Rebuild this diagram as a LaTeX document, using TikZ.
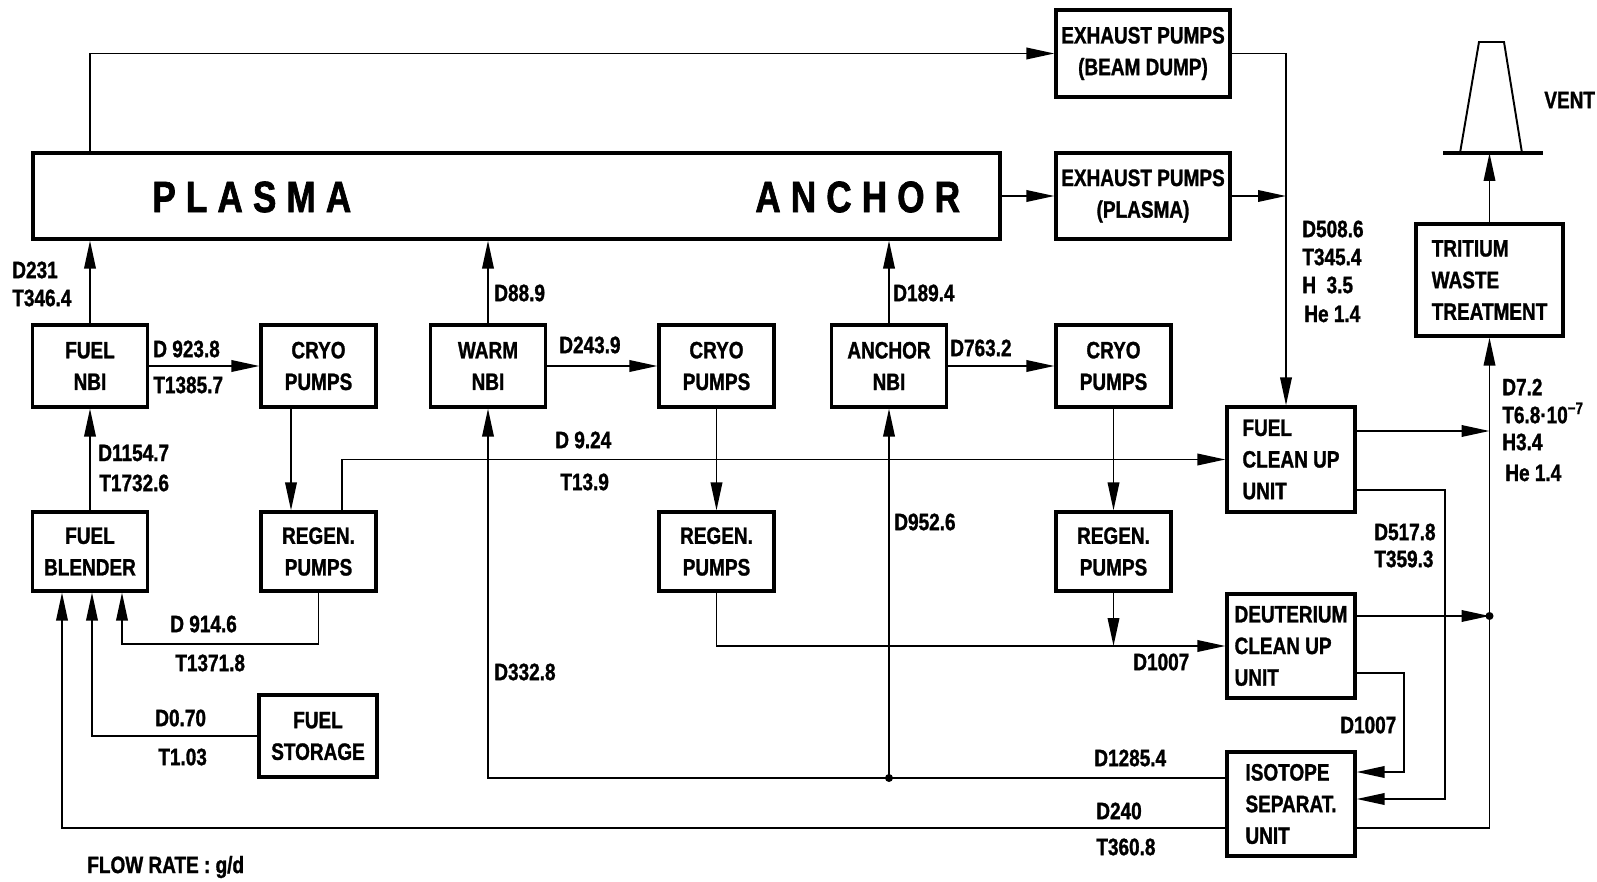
\documentclass[tikz,border=0pt]{standalone}
\usepackage{fontspec}
\setmainfont{Liberation Sans}[FakeStretch=0.8,FakeBold=1.2]
\newfontfamily\plasmafont{Liberation Sans}[FakeStretch=0.8,FakeBold=1.5,LetterSpace=23]
\usetikzlibrary{arrows.meta,positioning,calc}

\begin{document}
\begin{tikzpicture}[x=0.2mm, y=-0.2mm,
  font=\fontsize{13.5}{18}\selectfont\bfseries,
  unit/.style={rectangle, draw, line width=1.8pt, minimum width=23mm,
               minimum height=16.4mm, align=center, inner sep=0pt},
  wideunit/.style={unit, minimum width=25.6mm, minimum height=21mm, align=left},
  flow/.style={-{Triangle[length=5.6mm, width=2.3mm]}, line width=1.1pt},
  lbl/.style={anchor=west, inner sep=0pt},
  junc/.style={circle, fill, inner sep=0pt, minimum size=1.6mm},
  bigword/.style={anchor=west, inner sep=0pt,
                  font=\plasmafont\bfseries\fontsize{25}{25}\selectfont}
]
\useasboundingbox (0,0) rectangle (1597,882);

% Plasma block
\node[unit, minimum width=193.4mm, minimum height=17.2mm] (plasma) at (516.5,196) {};
\node[bigword] (wplasma) at (152,197) {PLASMA};
\node[bigword] (wanchor) at (755,197) {ANCHOR};

% Exhaust side
\node[unit, minimum width=34.8mm, minimum height=17.4mm] (exbeam) at (1143,53.5) {EXHAUST PUMPS\\(BEAM DUMP)};
\node[unit, minimum width=34.8mm, minimum height=17.2mm] (explasma) at (1143,196) {EXHAUST PUMPS\\(PLASMA)};

% Injector row
\node[unit] (fuelnbi)   at (90,366)     {FUEL\\NBI};
\node[unit] (cryoA)     at (318.5,366)  {CRYO\\PUMPS};
\node[unit] (warmnbi)   at (488,366)    {WARM\\NBI};
\node[unit] (cryoB)     at (716.5,366)  {CRYO\\PUMPS};
\node[unit] (anchornbi) at (889,366)    {ANCHOR\\NBI};
\node[unit] (cryoC)     at (1113.5,366) {CRYO\\PUMPS};

% Regeneration row
\node[unit, minimum height=15.8mm] (blender) at (90,551.5)     {FUEL\\BLENDER};
\node[unit, minimum height=15.8mm] (regenA)  at (318.5,551.5)  {REGEN.\\PUMPS};
\node[unit, minimum height=15.8mm] (regenB)  at (716.5,551.5)  {REGEN.\\PUMPS};
\node[unit, minimum height=15.8mm] (regenC)  at (1113.5,551.5) {REGEN.\\PUMPS};
\node[unit, minimum width=23.6mm] (storage) at (318,736) {FUEL\\STORAGE};

% Clean up and separation
\node[wideunit] (fuelclean) at (1291,459.5) {FUEL\\CLEAN UP\\UNIT};
\node[wideunit, minimum height=20.8mm] (deut) at (1291,646) {DEUTERIUM\\CLEAN UP\\UNIT};
\node[wideunit, minimum height=20.8mm] (isotope) at (1291,804) {ISOTOPE\\SEPARAT.\\UNIT};
\node[wideunit, minimum width=29.4mm, minimum height=22.4mm] (tritium) at (1489.5,280) {TRITIUM\\WASTE\\TREATMENT};

% Vent stack
\coordinate (ventbase) at (1491,153);
\draw[line width=1.1pt] (1460,153) -- (1479,42) -- (1504,42) -- (1522,153);
\draw[line width=1.8pt] (1443,153) -- (1543,153);
\node[lbl] (vent) at (1544,100) {VENT};

% Arrows into plasma
\draw[flow] (fuelnbi.north) -- (fuelnbi.north |- plasma.south);
\draw[flow] (warmnbi.north) -- (warmnbi.north |- plasma.south);
\draw[flow] (anchornbi.north) -- (anchornbi.north |- plasma.south);

% Exhaust lines
\coordinate (colx) at ([xshift=-1mm]fuelclean.north);
\draw[flow] (plasma.north -| fuelnbi) |- (exbeam.west);
\draw[flow] (plasma.east) -- (explasma.west);
\draw[flow] (exbeam.east) -| (colx);
\draw[flow] (explasma.east) -- (explasma.east -| colx);

% NBI to cryo to regen
\draw[flow] (fuelnbi.east) -- (cryoA.west);
\draw[flow] (warmnbi.east) -- (cryoB.west);
\draw[flow] (anchornbi.east) -- (cryoC.west);
\draw[flow] ([xshift=-5.5mm]cryoA.south) -- ([xshift=-5.5mm]regenA.north);
\draw[flow] (cryoB.south) -- (regenB.north);
\draw[flow] (cryoC.south) -- (regenC.north);

% Fuel return
\draw[flow] (blender.north) -- (fuelnbi.south);
\draw[flow] ([xshift=4.7mm]regenA.north) |- (fuelclean.west);
\draw[flow] (regenA.south) -- ++(0,51) -| ([xshift=6.4mm]blender.south);
\draw[flow] (storage.west) -| ([xshift=0.4mm]blender.south);
\draw[flow] ([yshift=-4.8mm]isotope.west) -| ([xshift=-5.6mm]blender.south);

% Deuterium path
\draw[flow] (regenB.south) |- (deut.west);
\draw[flow] (regenC.south) -- (regenC.south |- deut.west);

% Isotope output to NBIs
\coordinate (isoin) at ([yshift=5.2mm]isotope.west);
\draw[flow] (isoin) -| (warmnbi.south);
\draw[flow] (anchornbi.south |- isoin) -- (anchornbi.south);
\node[junc] (jnbi) at (anchornbi.south |- isoin) {};

% Tritium waste feed
\draw[flow] ([yshift=-4.8mm]isotope.east) -| (tritium.south);
\draw[flow] ([yshift=5.7mm]fuelclean.east) -- ([yshift=5.7mm]fuelclean.east -| tritium.south);
\draw[flow] ([yshift=6mm]deut.east) -- ([yshift=6mm]deut.east -| tritium.south);
\node[junc] (jdeut) at ([yshift=6mm]deut.east -| tritium.south) {};
\draw[flow] ([yshift=-6.1mm]fuelclean.east) -- ++(88,0) |- ([yshift=1mm]isotope.east);
\draw[flow] ([yshift=-5.4mm]deut.east) -- ++(47,0) |- ([yshift=6.4mm]isotope.east);
\draw[flow] (tritium.north) -- (tritium.north |- ventbase);

% Flow labels
\node[lbl] (l1)  at (12,270)   {D231};
\node[lbl] (l2)  at (12,298)   {T346.4};
\node[lbl] (l3)  at (153,349)  {D 923.8};
\node[lbl] (l4)  at (153,385)  {T1385.7};
\node[lbl] (l5)  at (98,453)   {D1154.7};
\node[lbl] (l6)  at (99,483)   {T1732.6};
\node[lbl] (l7)  at (170,624)  {D 914.6};
\node[lbl] (l8)  at (175,663)  {T1371.8};
\node[lbl] (l9)  at (155,718)  {D0.70};
\node[lbl] (l10) at (158,757)  {T1.03};
\node[lbl] (l11) at (494,293)  {D88.9};
\node[lbl] (l12) at (559,345)  {D243.9};
\node[lbl] (l13) at (555,440)  {D 9.24};
\node[lbl] (l14) at (560,482)  {T13.9};
\node[lbl] (l15) at (893,293)  {D189.4};
\node[lbl] (l16) at (950,348)  {D763.2};
\node[lbl] (l17) at (894,522)  {D952.6};
\node[lbl] (l18) at (494,672)  {D332.8};
\node[lbl] (l19) at (1133,662) {D1007};
\node[lbl] (l20) at (1094,758) {D1285.4};
\node[lbl] (l21) at (1096,811) {D240};
\node[lbl] (l22) at (1096,847) {T360.8};
\node[lbl] (l23) at (1340,725) {D1007};
\node[lbl] (l24) at (1374,532) {D517.8};
\node[lbl] (l25) at (1374,559) {T359.3};
\node[lbl] (l26) at (1302,229) {D508.6};
\node[lbl] (l27) at (1302,257) {T345.4};
\node[lbl] (l28) at (1302,285) {H~~3.5};
\node[lbl] (l29) at (1304,314) {He 1.4};
\node[lbl] (l30) at (1502,387) {D7.2};
\node[lbl] (l31) at (1502,413) {T6.8·10\textsuperscript{−7}};
\node[lbl] (l32) at (1502,442) {H3.4};
\node[lbl] (l33) at (1505,473) {He 1.4};
\node[lbl] (units) at (87,867) {FLOW RATE : g/d};
\end{tikzpicture}
\end{document}
